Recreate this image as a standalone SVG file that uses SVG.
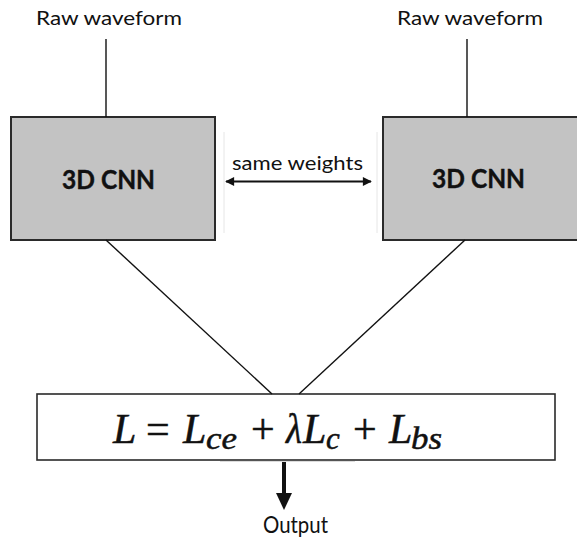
<svg xmlns="http://www.w3.org/2000/svg" width="577" height="543" viewBox="0 0 577 543">
<style>
.lbl{font-family:Lato,"Open Sans","Liberation Sans",sans-serif;fill:#111;}
.cnn{fill:#c3c3c3;stroke:#2a2a2a;stroke-width:2;}
.bold{font-family:Lato,"Open Sans","Liberation Sans",sans-serif;font-weight:bold;font-size:26px;fill:#111;stroke:#111;stroke-width:0.4;}
.ln{stroke:#111;stroke-width:1.4;fill:none;}
.m{font-family:"Liberation Serif","DejaVu Serif",serif;fill:#111;stroke:#111;stroke-width:0.5;}
.i{font-style:italic;}
</style>
<defs>
<marker id="ah" viewBox="0 0 10 10" refX="9" refY="5" markerWidth="5.5" markerHeight="4.5" orient="auto-start-reverse" markerUnits="strokeWidth">
<path d="M0,0 L10,5 L0,10 z" fill="#111"/>
</marker>
</defs>
<rect width="577" height="543" fill="#fff"/>
<g id="input-left">
<text class="lbl" x="109" y="25" font-size="18.5" text-anchor="middle" textLength="146" lengthAdjust="spacingAndGlyphs">Raw waveform</text>
</g>
<g id="input-right">
<text class="lbl" x="470" y="25" font-size="18.5" text-anchor="middle" textLength="146" lengthAdjust="spacingAndGlyphs">Raw waveform</text>
</g>
<g id="cnn-left">
<rect class="cnn" x="11" y="117" width="204" height="123"/>
<text class="bold" x="108.5" y="189" text-anchor="middle" textLength="93" lengthAdjust="spacingAndGlyphs">3D CNN</text>
</g>
<g id="cnn-right">
<rect class="cnn" x="383" y="117" width="200" height="123"/>
<text class="bold" x="478.5" y="188" text-anchor="middle" textLength="93" lengthAdjust="spacingAndGlyphs">3D CNN</text>
</g>
<g id="loss">
<rect x="37" y="394" width="518" height="66" fill="#fff" stroke="#2a2a2a" stroke-width="1.6"/>
<text class="m" y="443" font-size="42">
<tspan class="i" x="113">L</tspan>
<tspan x="146">=</tspan>
<tspan class="i" x="183">L</tspan>
<tspan class="i" x="206" dy="6" font-size="31" textLength="31" lengthAdjust="spacingAndGlyphs">ce</tspan>
<tspan x="251" dy="-6">+</tspan>
<tspan class="i" x="286" textLength="16" lengthAdjust="spacingAndGlyphs">λ</tspan>
<tspan class="i" x="303">L</tspan>
<tspan class="i" x="326" dy="6" font-size="31">c</tspan>
<tspan x="353" dy="-6">+</tspan>
<tspan class="i" x="389">L</tspan>
<tspan class="i" x="411" dy="6" font-size="31" textLength="31" lengthAdjust="spacingAndGlyphs">bs</tspan>
</text>
</g>
<g id="output">
<text class="lbl" x="295.5" y="533" font-size="23" text-anchor="middle" textLength="65" lengthAdjust="spacingAndGlyphs">Output</text>
</g>
<g id="connectors">
<line class="ln" x1="106" y1="39" x2="106" y2="117"/>
<line class="ln" x1="467" y1="39" x2="467" y2="117"/>
<line class="ln" x1="106" y1="240" x2="272" y2="394"/>
<line class="ln" x1="465" y1="240" x2="299" y2="394"/>
<line x1="224" y1="132" x2="224" y2="233" stroke="#e6e6e6" stroke-width="1"/>
<line x1="377" y1="132" x2="377" y2="233" stroke="#e6e6e6" stroke-width="1"/>
<line x1="220" y1="461.5" x2="355" y2="461.5" stroke="#dcdcdc" stroke-width="1"/>
<line x1="226" y1="181.5" x2="371" y2="181.5" stroke="#111" stroke-width="2" marker-start="url(#ah)" marker-end="url(#ah)"/>
<text class="lbl" x="297.5" y="170" font-size="18.5" text-anchor="middle" textLength="131" lengthAdjust="spacingAndGlyphs">same weights</text>
<line x1="284" y1="462" x2="284" y2="495" stroke="#111" stroke-width="4"/>
<path d="M276,493 L292,493 L284,510 z" fill="#111"/>
</g>
</svg>
